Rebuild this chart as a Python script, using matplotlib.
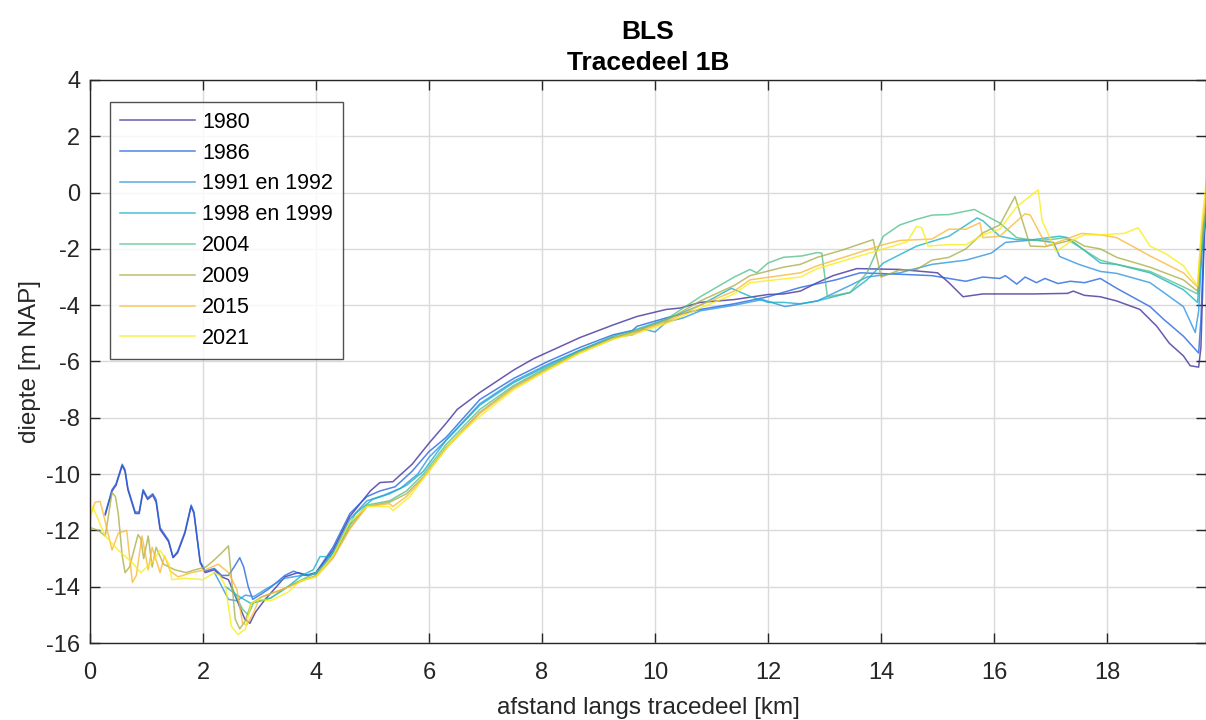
import matplotlib
matplotlib.use("Agg")
import matplotlib.pyplot as plt

plt.rcParams['font.family'] = ['Liberation Sans', 'DejaVu Sans']
plt.rcParams['axes.unicode_minus'] = False

# --- bed profiles along the track section (distance in km, depth in m NAP) ---
x_1980 = [0.27, 0.39, 0.46, 0.57, 0.62, 0.67, 0.80, 0.87, 0.94, 1.02, 1.11, 1.17, 1.24, 1.39, 1.47,
          1.55, 1.68, 1.79, 1.84, 1.95, 2.04, 2.20, 2.33, 2.45, 2.62, 2.74, 2.83, 2.93, 3.10, 3.30,
          3.45, 3.68, 3.87, 4.00, 4.30, 4.60, 4.96, 5.13, 5.36, 5.70, 6.00, 6.30, 6.50, 6.90, 7.50,
          7.85, 8.67, 9.26, 9.68, 10.20, 10.45, 10.80, 11.40, 12.00, 12.27, 12.57, 12.87, 13.15, 13.57,
          14.33, 15.00, 15.20, 15.45, 15.80, 16.70, 17.30, 17.40, 17.60, 17.88, 18.17, 18.58, 18.88,
          19.10, 19.35, 19.47, 19.62, 19.66, 19.72, 19.76]
d_1980 = [-11.45, -10.6, -10.4, -9.7, -9.9, -10.55, -11.4, -11.4, -10.6, -10.9, -10.75, -11.0, -11.97, -12.4, -12.97,
          -12.8, -12.1, -11.15, -11.4, -13.15, -13.5, -13.4, -13.65, -13.75, -14.57, -15.15, -15.3, -14.9, -14.45, -14.0,
          -13.65, -13.5, -13.6, -13.5, -12.7, -11.5, -10.6, -10.3, -10.27, -9.65, -8.9, -8.2, -7.7, -7.1, -6.3,
          -5.9, -5.15, -4.7, -4.4, -4.15, -4.1, -3.9, -3.8, -3.62, -3.6, -3.5, -3.2, -2.95, -2.7,
          -2.73, -2.85, -3.2, -3.7, -3.6, -3.6, -3.58, -3.5, -3.65, -3.7, -3.85, -4.15, -4.75,
          -5.35, -5.8, -6.15, -6.2, -5.5, -1.5, -0.5]

x_1986 = [0.27, 0.39, 0.46, 0.57, 0.62, 0.67, 0.80, 0.87, 0.94, 1.02, 1.11, 1.17, 1.24, 1.39, 1.47,
          1.55, 1.68, 1.79, 1.84, 1.95, 2.04, 2.20, 2.33, 2.45, 2.55, 2.65, 2.72, 2.80, 2.88, 3.00,
          3.15, 3.45, 3.60, 3.80, 4.00, 4.30, 4.60, 4.90, 5.13, 5.40, 5.70, 6.00, 6.30, 6.90, 7.50,
          8.10, 8.67, 9.26, 9.60, 9.68, 10.20, 10.80, 11.40, 12.00, 12.57, 13.20, 13.63, 14.33, 14.90,
          15.50, 15.80, 16.10, 16.20, 16.40, 16.55, 16.75, 16.90, 17.13, 17.35, 17.60, 17.88, 18.17,
          18.76, 19.00, 19.35, 19.53, 19.62, 19.66, 19.72, 19.76]
d_1986 = [-11.4, -10.55, -10.35, -9.65, -9.85, -10.5, -11.35, -11.35, -10.55, -10.85, -10.7, -10.9, -11.9, -12.35, -12.95,
          -12.75, -12.05, -11.1, -11.35, -13.1, -13.45, -13.35, -13.6, -13.6, -13.3, -12.97, -13.3, -14.0, -14.45, -14.3,
          -14.1, -13.6, -13.45, -13.6, -13.5, -12.6, -11.4, -10.8, -10.6, -10.45, -9.9, -9.2, -8.7, -7.35, -6.6,
          -6.0, -5.5, -5.05, -4.9, -4.75, -4.45, -4.15, -3.95, -3.7, -3.37, -3.1, -2.85, -2.9, -2.95,
          -3.15, -3.0, -3.05, -2.95, -3.25, -3.0, -3.2, -3.05, -3.23, -3.15, -3.2, -3.05, -3.4,
          -4.05, -4.5, -5.1, -5.5, -5.7, -4.5, -1.3, -0.7]

x_1991 = [2.20, 2.27, 2.45, 2.60, 2.75, 2.90, 3.10, 3.45, 3.75, 4.00, 4.30, 4.60, 4.90, 5.20, 5.50,
          5.80, 6.00, 6.30, 6.90, 7.50, 8.10, 8.67, 9.26, 9.60, 9.80, 10.00, 10.20, 10.50, 10.80, 11.40,
          11.90, 12.30, 12.87, 13.45, 13.75, 14.33, 14.90, 15.50, 15.95, 16.20, 16.70, 17.05, 17.16, 17.50,
          17.88, 18.17, 18.76, 19.35, 19.56, 19.62, 19.70, 19.76]
d_1991 = [-13.5, -13.75, -14.45, -14.5, -14.3, -14.35, -14.1, -13.7, -13.6, -13.55, -12.8, -11.6, -10.95, -10.75, -10.5,
          -10.0, -9.4, -8.8, -7.5, -6.7, -6.1, -5.6, -5.15, -5.05, -4.85, -4.95, -4.6, -4.45, -4.2, -4.0,
          -3.8, -4.05, -3.85, -3.3, -3.0, -2.85, -2.55, -2.4, -2.15, -1.77, -1.68, -1.77, -2.27, -2.55,
          -2.8, -2.87, -3.2, -4.05, -4.97, -4.2, -1.2, -0.6]

x_1998 = [2.40, 2.60, 2.85, 3.20, 3.50, 3.75, 3.95, 4.07, 4.25, 4.42, 4.70, 5.00, 5.30, 5.60, 5.90,
          6.30, 6.90, 7.50, 8.10, 8.67, 9.26, 9.68, 10.20, 10.80, 11.35, 11.70, 12.00, 12.27, 12.57, 12.87,
          13.45, 13.75, 14.04, 14.63, 15.20, 15.70, 15.80, 16.10, 16.40, 16.70, 17.16, 17.30, 17.50, 17.88,
          18.17, 18.76, 19.35, 19.60, 19.68, 19.76]
d_1998 = [-14.0, -14.3, -14.6, -14.4, -14.0, -13.6, -13.4, -12.93, -12.93, -12.4, -11.4, -10.9, -10.7, -10.4, -9.9,
          -8.8, -7.55, -6.75, -6.15, -5.6, -5.1, -4.85, -4.5, -4.0, -3.4, -3.7, -3.9, -3.9, -3.95, -3.85,
          -3.55, -3.1, -2.5, -1.9, -1.55, -0.9, -1.0, -1.55, -1.67, -1.67, -1.55, -1.6, -1.9, -2.5,
          -2.55, -2.85, -3.45, -3.9, -2.0, -0.5]

x_2004 = [2.50, 2.70, 2.80, 2.90, 3.20, 3.50, 3.80, 4.00, 4.30, 4.60, 4.90, 5.30, 5.60, 5.90, 6.30,
          6.90, 7.50, 8.10, 8.67, 9.26, 9.68, 10.20, 10.80, 11.40, 11.68, 11.80, 12.00, 12.27, 12.60, 12.87,
          12.95, 13.05, 13.45, 13.75, 14.04, 14.33, 14.63, 14.90, 15.20, 15.65, 16.10, 16.40, 16.70, 17.00,
          17.25, 17.60, 17.88, 18.17, 18.76, 19.35, 19.60, 19.68, 19.76]
d_2004 = [-14.0, -14.8, -15.0, -14.55, -14.4, -14.0, -13.7, -13.5, -12.9, -11.8, -11.1, -10.95, -10.6, -10.0, -8.95,
          -7.7, -6.85, -6.2, -5.65, -5.2, -4.9, -4.5, -3.7, -3.0, -2.73, -2.85, -2.5, -2.3, -2.25, -2.13,
          -2.15, -3.7, -3.55, -2.85, -1.55, -1.15, -0.95, -0.8, -0.78, -0.6, -1.08, -1.6, -1.7, -1.67,
          -1.6, -2.05, -2.4, -2.55, -2.8, -3.35, -3.6, -1.8, -0.6]

x_2009 = [0.00, 0.15, 0.27, 0.39, 0.45, 0.50, 0.57, 0.62, 0.70, 0.85, 0.90, 0.95, 1.03, 1.10, 1.17,
          1.30, 1.50, 1.70, 1.86, 2.05, 2.17, 2.33, 2.45, 2.50, 2.57, 2.65, 2.75, 2.85, 3.05, 3.40,
          3.80, 4.00, 4.30, 4.60, 4.90, 5.30, 5.60, 5.90, 6.30, 6.90, 7.50, 8.10, 8.67, 9.26, 9.68,
          10.20, 10.80, 11.40, 11.68, 12.27, 12.57, 12.87, 13.30, 13.86, 14.00, 14.33, 14.63, 14.90, 15.20,
          15.50, 15.80, 16.10, 16.37, 16.50, 16.64, 16.90, 17.40, 17.60, 17.88, 18.17, 18.76, 19.35,
          19.60, 19.68, 19.76]
d_2009 = [-11.9, -12.0, -12.2, -10.65, -10.8, -11.4, -12.9, -13.5, -13.3, -12.15, -12.3, -13.0, -12.2, -13.3, -12.6,
          -13.2, -13.4, -13.5, -13.4, -13.3, -13.1, -12.8, -12.55, -13.6, -15.15, -15.5, -15.2, -14.6, -14.35, -14.1,
          -13.75, -13.6, -12.95, -11.9, -11.15, -11.0, -10.7, -10.1, -9.05, -7.8, -6.9, -6.25, -5.65, -5.15, -4.9,
          -4.55, -3.85, -3.3, -2.95, -2.65, -2.55, -2.3, -2.05, -1.67, -3.0, -2.75, -2.73, -2.4, -2.3,
          -2.0, -1.43, -1.15, -0.14, -1.0, -1.9, -1.92, -1.67, -1.9, -2.0, -2.3, -2.65, -3.1,
          -3.5, -1.5, -0.3]

x_2015 = [0.00, 0.09, 0.18, 0.27, 0.39, 0.50, 0.65, 0.75, 0.82, 0.92, 1.03, 1.10, 1.24, 1.32, 1.42,
          1.56, 1.80, 2.04, 2.27, 2.45, 2.60, 2.70, 2.78, 2.90, 3.00, 3.40, 3.80, 4.00, 4.30, 4.60,
          4.90, 5.30, 5.36, 5.60, 5.90, 6.30, 6.90, 7.50, 8.10, 8.67, 9.26, 9.68, 10.20, 10.80, 11.40,
          11.68, 12.57, 12.87, 14.04, 14.33, 14.90, 15.20, 15.50, 15.75, 15.80, 16.10, 16.55, 16.64, 16.93,
          17.25, 17.55, 17.88, 18.17, 18.76, 19.35, 19.60, 19.68, 19.76]
d_2015 = [-11.5, -11.0, -10.97, -11.7, -12.7, -12.1, -12.0, -13.85, -13.6, -12.2, -13.4, -12.6, -13.5, -12.9, -13.45,
          -13.65, -13.5, -13.4, -13.2, -13.5, -14.1, -15.3, -15.35, -14.9, -14.4, -14.1, -13.75, -13.65, -13.0, -11.95,
          -11.15, -11.05, -11.15, -10.8, -10.15, -9.1, -7.85, -6.95, -6.3, -5.7, -5.2, -4.95, -4.6, -4.0, -3.5,
          -3.1, -2.85, -2.6, -1.85, -1.7, -1.65, -1.3, -1.3, -1.07, -1.6, -1.55, -0.75, -0.8, -1.9,
          -1.67, -1.45, -1.5, -1.6, -2.25, -2.85, -3.35, -1.2, 0.0]

x_2021 = [0.00, 0.05, 0.12, 0.27, 0.50, 0.75, 0.90, 1.11, 1.24, 1.40, 1.45, 1.68, 2.00, 2.20, 2.30,
          2.40, 2.50, 2.62, 2.75, 2.85, 3.00, 3.20, 3.50, 3.72, 4.00, 4.30, 4.60, 4.90, 5.30, 5.36,
          5.66, 6.07, 6.42, 6.90, 7.50, 8.10, 8.67, 9.26, 9.68, 10.20, 10.80, 11.40, 11.68, 12.57, 12.87,
          14.04, 14.46, 14.63, 14.72, 14.83, 15.20, 15.50, 15.80, 16.10, 16.40, 16.78, 16.85, 17.10, 17.40,
          17.60, 17.88, 18.30, 18.55, 18.76, 19.06, 19.35, 19.60, 19.68, 19.76]
d_2021 = [-11.7, -11.15, -11.5, -12.2, -12.7, -13.15, -13.5, -13.1, -12.7, -13.2, -13.75, -13.7, -13.75, -13.5, -13.6,
          -14.0, -15.4, -15.7, -15.5, -14.6, -14.45, -14.5, -14.2, -13.8, -13.65, -12.9, -11.7, -11.15, -11.15, -11.3,
          -10.8, -9.7, -8.8, -7.95, -7.0, -6.3, -5.7, -5.2, -5.0, -4.65, -4.1, -3.6, -3.2, -3.0, -2.7,
          -2.0, -1.75, -1.2, -1.25, -1.9, -1.85, -1.85, -1.5, -1.3, -0.5, 0.1, -1.0, -2.1, -1.67,
          -1.5, -1.5, -1.45, -1.25, -1.9, -2.2, -2.6, -3.3, -1.0, 0.5]

labels = ["1980", "1986", "1991 en 1992", "1998 en 1999", "2004", "2009", "2015", "2021"]
xs = [x_1980, x_1986, x_1991, x_1998, x_2004, x_2009, x_2015, x_2021]
ds = [d_1980, d_1986, d_1991, d_1998, d_2004, d_2009, d_2015, d_2021]

# one colour per survey, running from dark blue to yellow
colors = ["#3d2c9a", "#1f62e0", "#2a92e2", "#17b0c4", "#52c08a", "#a9ad45", "#fbb735", "#f8ee14"]

ink = "#262626"

fig = plt.figure(figsize=(12.06, 7.20), dpi=100)
ax = fig.add_axes([90 / 1206, 77 / 720, 1116 / 1206, 563 / 720])

for x, d, c, lab in zip(xs, ds, colors, labels):
    ax.plot(x, d, color=c, lw=1.1, alpha=0.78, label=lab)

ax.set_xlim(0, 19.75)
ax.set_ylim(-16, 4)
ax.set_xticks(range(0, 20, 2))
ax.set_yticks(range(-16, 5, 2))

ax.grid(True, color="#dadada", lw=1.0)
ax.set_axisbelow(True)
for s in ax.spines.values():
    s.set_color(ink)
    s.set_linewidth(1.0)
ax.tick_params(direction="in", length=7, width=1.0, colors=ink, labelsize=17,
               top=True, right=True)
ax.tick_params(axis="x", pad=14)
ax.tick_params(axis="y", pad=7)

ax.set_xlabel("afstand langs tracedeel [km]", fontsize=17.5, color=ink, labelpad=9)
ax.set_ylabel("diepte [m NAP]", fontsize=17.5, color=ink, labelpad=4)
ax.set_title("BLS\nTracedeel 1B", fontsize=19, fontweight="bold", color="black",
             linespacing=1.4, pad=7)

leg = ax.legend(loc="upper left", bbox_to_anchor=(20 / 1116, 1 - 22 / 563),
                fontsize=15.5, frameon=True, fancybox=False, borderaxespad=0,
                handlelength=3.5, handletextpad=0.33, labelspacing=0.46, borderpad=0.45)
leg.get_frame().set_edgecolor(ink)
leg.get_frame().set_linewidth(1.0)
for t in leg.get_texts():
    t.set_color("black")

fig.savefig("out.png", dpi=100)
